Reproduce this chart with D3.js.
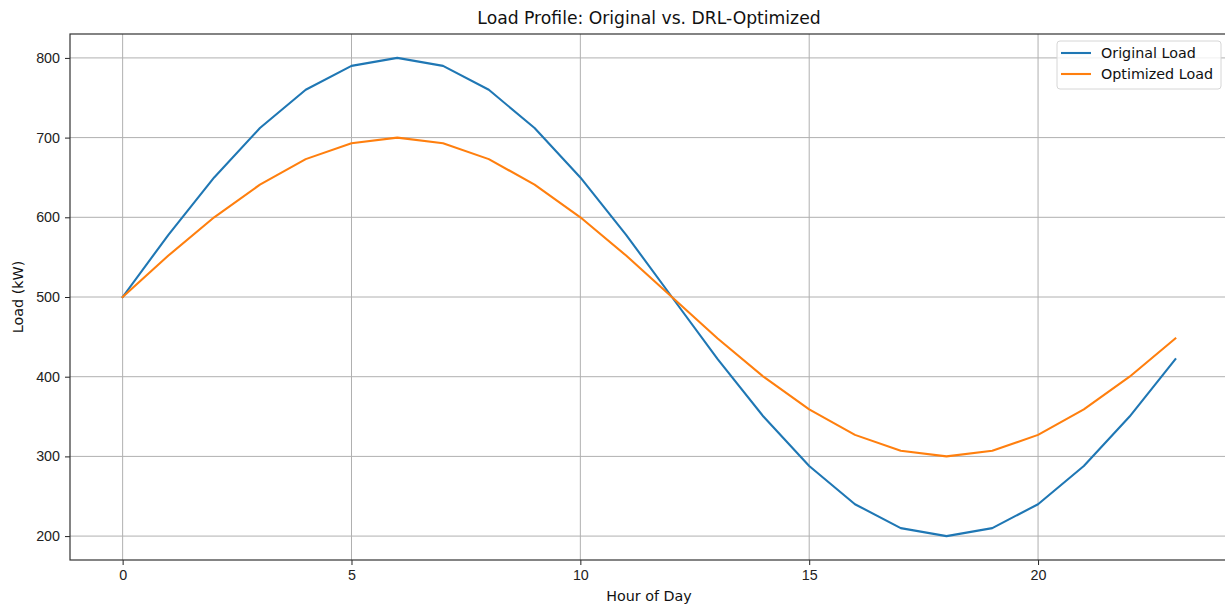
<!DOCTYPE html>
<html>
<head>
<meta charset="utf-8">
<script src="https://cdn.jsdelivr.net/npm/d3@7"></script>
<style>
  body { margin: 0; background: #fff; }
  svg { font-family: "DejaVu Sans", sans-serif; }
  .grid line { stroke: #b0b0b0; stroke-width: 1; }
  .axis text { font-size: 14.3px; fill: #222; }
  .axis line { stroke: #222; }
</style>
</head>
<body>
<div id="chart"></div>
<script>
const hours = d3.range(0, 24);
const originalLoad = [500, 578, 650, 712, 760, 790, 800, 790, 760, 712, 650, 578,
                      500, 422, 350, 288, 240, 210, 200, 210, 240, 288, 350, 422];
const optimizedLoad = [500, 552, 600, 641, 673, 693, 700, 693, 673, 641, 600, 552,
                       500, 448, 400, 359, 327, 307, 300, 307, 327, 359, 400, 448];
const xTicks = [0, 5, 10, 15, 20];
const yTicks = [200, 300, 400, 500, 600, 700, 800];
const seriesNames = ["Original Load", "Optimized Load"];
const colors = ["#1f77b4", "#ff7f0e"];

const W = 1225, H = 606;
const margin = { top: 34, right: -3, bottom: 46, left: 70 };
const width = W - margin.left - margin.right,
      height = H - margin.top - margin.bottom;

const x = d3.scaleLinear().domain([-1.15, 24.15]).range([0, width]);
const y = d3.scaleLinear().domain([170, 830]).range([height, 0]);

const svg = d3.select("#chart").append("svg")
    .attr("width", W)
    .attr("height", H);

const g = svg.append("g")
    .attr("transform", `translate(${margin.left},${margin.top})`);

// grid
g.append("g").attr("class", "grid")
  .selectAll("line.v").data(xTicks).join("line")
    .attr("x1", d => x(d)).attr("x2", d => x(d))
    .attr("y1", 0).attr("y2", height);
g.append("g").attr("class", "grid")
  .selectAll("line.h").data(yTicks).join("line")
    .attr("x1", 0).attr("x2", width)
    .attr("y1", d => y(d)).attr("y2", d => y(d));

// lines
const series = [originalLoad, optimizedLoad];
const line = d3.line().x((d, i) => x(hours[i])).y(d => y(d));
g.selectAll("path.series").data(series).join("path")
    .attr("class", "series")
    .attr("fill", "none")
    .attr("stroke", (d, i) => colors[i])
    .attr("stroke-width", 2.1)
    .attr("stroke-linejoin", "round")
    .attr("stroke-linecap", "square")
    .attr("d", line);

// axes
const xAxis = d3.axisBottom(x).tickValues(xTicks).tickSize(5).tickPadding(5);
const yAxis = d3.axisLeft(y).tickValues(yTicks).tickSize(5).tickPadding(5);
g.append("g").attr("class", "axis")
    .attr("transform", `translate(0,${height})`)
    .call(xAxis)
    .call(s => s.select(".domain").remove());
g.append("g").attr("class", "axis")
    .call(yAxis)
    .call(s => s.select(".domain").remove());

// spines (right one falls just past the window edge)
g.append("rect")
    .attr("x", 0).attr("y", 0)
    .attr("width", width + 4).attr("height", height)
    .attr("fill", "none")
    .attr("stroke", "#333")
    .attr("stroke-width", 1.2);

// title and labels
svg.append("text")
    .attr("x", 649).attr("y", 24)
    .attr("text-anchor", "middle")
    .attr("font-size", 17.2).attr("fill", "#111")
    .text("Load Profile: Original vs. DRL-Optimized");
svg.append("text")
    .attr("x", 649).attr("y", 601)
    .attr("text-anchor", "middle")
    .attr("font-size", 14.3).attr("fill", "#111")
    .text("Hour of Day");
svg.append("text")
    .attr("transform", `translate(23,${margin.top + height / 2}) rotate(-90)`)
    .attr("text-anchor", "middle")
    .attr("font-size", 14.3).attr("fill", "#111")
    .text("Load (kW)");

// legend
const lg = svg.append("g").attr("transform", "translate(1057,41)");
lg.append("rect")
    .attr("width", 164).attr("height", 48)
    .attr("rx", 3)
    .attr("fill", "rgba(255,255,255,0.8)")
    .attr("stroke", "#d6d6d6");
seriesNames.forEach((name, i) => {
  const yy = 12 + i * 21;
  lg.append("line")
      .attr("x1", 4).attr("x2", 34)
      .attr("y1", yy).attr("y2", yy)
      .attr("stroke", colors[i]).attr("stroke-width", 2.1);
  lg.append("text")
      .attr("x", 44).attr("y", yy + 5)
      .attr("font-size", 14.3).attr("fill", "#111")
      .text(name);
});
</script>
</body>
</html>
